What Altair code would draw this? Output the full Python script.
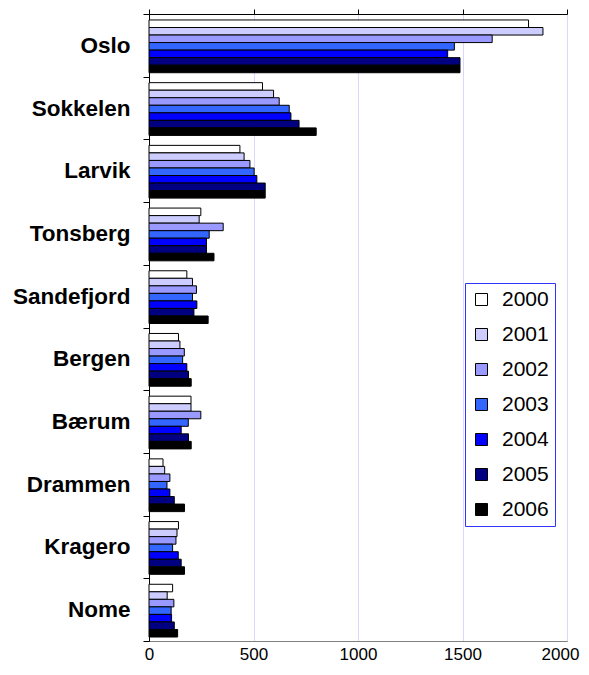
import altair as alt
import pandas as pd

cities = ["Oslo", "Sokkelen", "Larvik", "Tonsberg", "Sandefjord",
          "Bergen", "Bærum", "Drammen", "Kragero", "Nome"]
years = ["2000", "2001", "2002", "2003", "2004", "2005", "2006"]

v2000 = [1816, 543, 435, 248, 181, 141, 201, 67, 141, 113]
v2001 = [1885, 596, 455, 240, 208, 148, 201, 75, 134, 87]
v2002 = [1642, 623, 483, 355, 227, 169, 248, 100, 129, 119]
v2003 = [1461, 671, 503, 288, 208, 161, 188, 86, 113, 106]
v2004 = [1429, 679, 516, 275, 229, 181, 154, 100, 140, 108]
v2005 = [1488, 718, 556, 275, 215, 189, 189, 121, 154, 121]
v2006 = [1488, 800, 556, 311, 283, 202, 202, 170, 170, 137]
series = [v2000, v2001, v2002, v2003, v2004, v2005, v2006]

colors = ["#FFFFFF", "#CCCCFF", "#9999FF", "#3366FF", "#0000FF", "#000080", "#000000"]

rows = []
for y, vals in zip(years, series):
    for c, v in zip(cities, vals):
        rows.append({"city": c, "year": y, "value": v})
df = pd.DataFrame(rows)

xscale = alt.Scale(domain=[0, 2000], nice=False)
yscale = alt.Scale(domain=cities, paddingInner=0, paddingOuter=0)

bars = alt.Chart(df).mark_bar(stroke="#000000", strokeWidth=1).encode(
    x=alt.X("value:Q", scale=xscale, title=None,
            axis=alt.Axis(orient="bottom", values=[0, 500, 1000, 1500, 2000],
                          format="d", ticks=False, domain=True, domainColor="#808080",
                          grid=True, gridColor="#D8D8FF", gridWidth=1,
                          labelFont="Liberation Sans", labelFontSize=17,
                          labelColor="#000000", labelPadding=5,
                          labelOffset=alt.ExprRef("datum.value == 2000 ? -7 : 0"),
                          labelFlush=False, labelOverlap=False)),
    y=alt.Y("city:N", scale=yscale, sort=cities, title=None,
            axis=alt.Axis(tickBand="extent", tickSize=6, tickColor="#000000",
                          domainColor="#000000", labelFont="Liberation Sans",
                          labelFontWeight="bold", labelFontSize=22.5,
                          labelColor="#000000", labelPadding=13, grid=False)),
    yOffset=alt.YOffset("year:N", sort=years,
                        scale=alt.Scale(paddingInner=0, paddingOuter=0.66, align=0.6)),
    color=alt.Color("year:N", sort=years,
                    scale=alt.Scale(domain=years, range=colors),
                    legend=alt.Legend(title=None, orient="none", legendX=316, legendY=269,
                                      strokeColor="#3333FF", fillColor="#FFFFFF",
                                      padding=6, symbolType="square", symbolSize=144,
                                      symbolStrokeColor="#000000", symbolStrokeWidth=1,
                                      labelFont="Liberation Sans", labelFontSize=21,
                                      labelColor="#000000", labelOffset=10,
                                      rowPadding=13)),
)

top_axis = alt.Chart(df).mark_point(opacity=0).encode(
    x=alt.X("value:Q", scale=xscale, title=None,
            axis=alt.Axis(orient="top", values=[0, 500, 1000, 1500, 2000],
                          labels=False, ticks=True, tickSize=5, tickColor="#000000",
                          domainColor="#000000", grid=False)),
    y=alt.Y("city:N", scale=yscale, sort=cities, title=None),
)

chart = alt.layer(bars, top_axis).resolve_axis(x="independent").properties(
    width=418, height=627,
    autosize=alt.AutoSizeParams(type="none"),
    padding={"left": 141, "top": 6, "right": 14, "bottom": 22},
).configure_view(stroke="#808080", strokeWidth=1).configure_axis(domainWidth=1)

chart.save("out.html", embed_options={"renderer": "svg", "actions": False})
